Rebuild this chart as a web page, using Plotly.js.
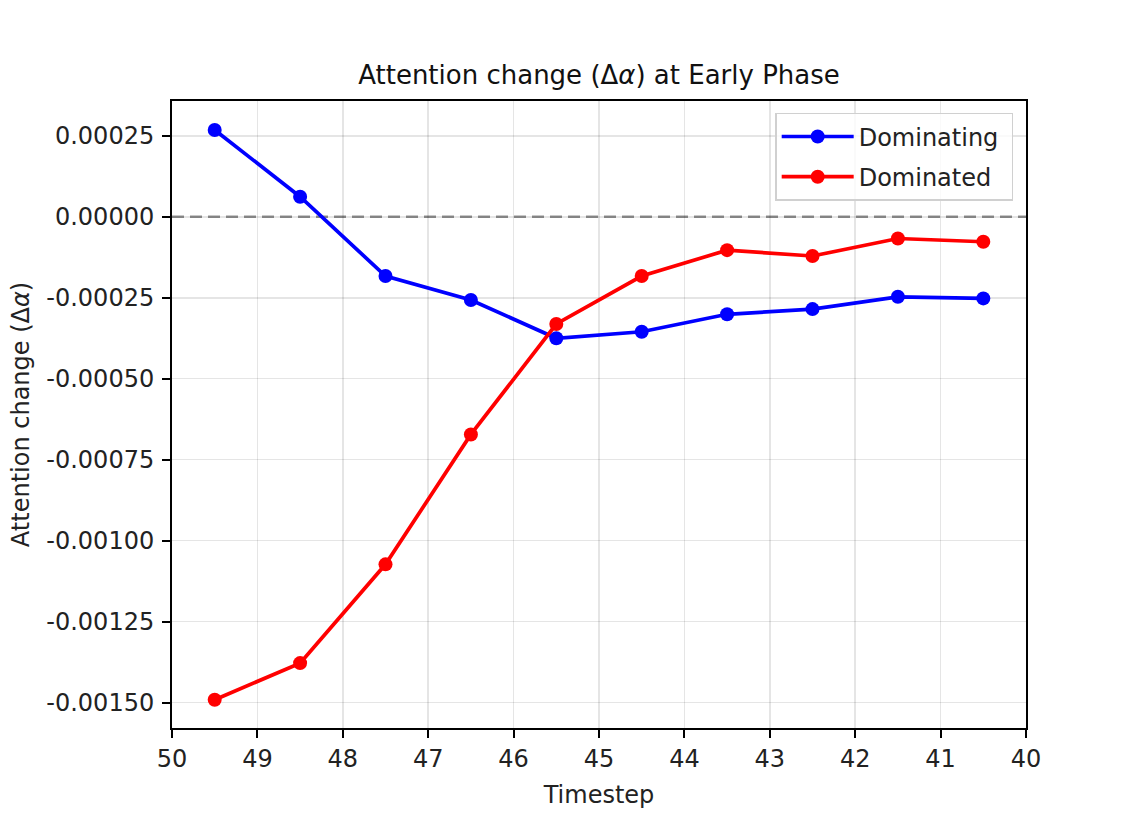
<!DOCTYPE html>
<html>
<head>
<meta charset="utf-8">
<script src="https://cdn.plot.ly/plotly-3.0.1.min.js"></script>
<style>html,body{margin:0;padding:0;background:#fff;}#chart{width:1142px;height:818px;}</style>
</head>
<body>
<div id="chart"></div>
<script>
const timesteps = [49.5, 48.5, 47.5, 46.5, 45.5, 44.5, 43.5, 42.5, 41.5, 40.5];
const dominating = [0.000268, 0.000062, -0.000183, -0.000257, -0.000375, -0.000355, -0.000301, -0.000285, -0.000247, -0.000252];
const dominated = [-0.001491, -0.001378, -0.001073, -0.000672, -0.000331, -0.000183, -0.000103, -0.000121, -0.000067, -0.000077];
const xTicks = [50, 49, 48, 47, 46, 45, 44, 43, 42, 41, 40];
const yTicks = [0.00025, 0, -0.00025, -0.0005, -0.00075, -0.001, -0.00125, -0.0015];

const font = {family: 'DejaVu Sans, sans-serif', size: 24, color: '#222'};

const traces = [
  {x: timesteps, y: dominating, name: 'Dominating\u00a0', mode: 'lines+markers', legendgroup: 'a',
   line: {color: '#0000ff', width: 3.7}, marker: {color: '#0000ff', size: 14}},
  {x: timesteps, y: dominated, name: 'Dominated\u00a0', mode: 'lines+markers', legendgroup: 'b',
   line: {color: '#ff0000', width: 3.7}, marker: {color: '#ff0000', size: 14}}
];

const layout = {
  width: 1142, height: 818,
  margin: {l: 172, r: 116, t: 101, b: 90},
  paper_bgcolor: '#fff', plot_bgcolor: '#fff',
  font: font,
  showlegend: true,
  title: {text: 'Attention change (Δ<i>α</i>) at Early Phase', font: {family: font.family, size: 26, color: '#111'},
          x: 0.5, xref: 'paper', xanchor: 'center', y: 1 - 75/818, yref: 'container', yanchor: 'middle'},
  xaxis: {
    range: [50, 40], tickmode: 'array', tickvals: xTicks, ticktext: xTicks.map(String),
    ticks: 'outside', ticklen: 8, tickwidth: 2, tickcolor: '#000',
    showline: true, linecolor: '#000', linewidth: 2, mirror: true,
    showgrid: true, gridcolor: 'rgba(0,0,0,0.1)', gridwidth: 1.5, zeroline: false,
    tickfont: font,
    title: {text: 'Timestep', font: font, standoff: 14}
  },
  yaxis: {
    range: [-0.0015783, 0.0003575], tickmode: 'array', tickvals: yTicks,
    ticktext: yTicks.map(v => (v < 0 ? '-' : '') + Math.abs(v).toFixed(5)),
    ticks: 'outside', ticklen: 8, tickwidth: 2, tickcolor: '#000',
    showline: true, linecolor: '#000', linewidth: 2, mirror: true,
    showgrid: true, gridcolor: 'rgba(0,0,0,0.1)', gridwidth: 1.5, zeroline: false,
    tickfont: font, ticklabelstandoff: 3,
    title: {text: 'Attention change (Δ<i>α</i>)', font: font, standoff: 10}
  },
  shapes: [{type: 'line', xref: 'paper', x0: 0, x1: 1, yref: 'y', y0: 0, y1: 0,
            line: {color: 'rgba(128,128,128,0.85)', width: 2.5, dash: '12px,6px'}, layer: 'below'}],
  legend: {x: 0.985, xanchor: 'right', y: 0.981, yanchor: 'top',
           bgcolor: 'rgba(255,255,255,0.8)', bordercolor: '#d0d0d0', borderwidth: 1.5,
           font: font, itemwidth: 72, tracegroupgap: 6, traceorder: 'grouped'}
};

Plotly.newPlot('chart', traces, layout, {displayModeBar: false, staticPlot: true});
</script>
</body>
</html>
